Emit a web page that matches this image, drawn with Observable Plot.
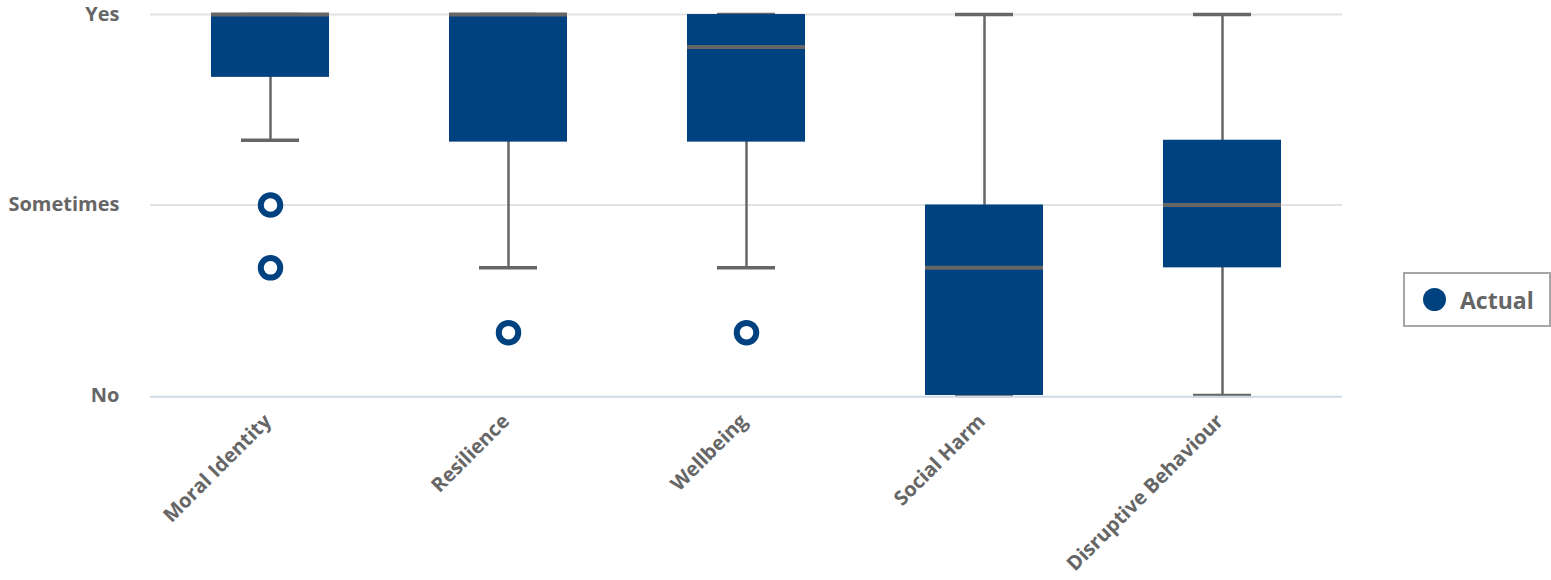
<!DOCTYPE html>
<html>
<head>
<meta charset="utf-8">
<script src="https://cdn.jsdelivr.net/npm/d3@7"></script>
<script src="https://cdn.jsdelivr.net/npm/@observablehq/plot@0.6"></script>
<style>
  html, body { margin: 0; padding: 0; background: #fff; }
  #wrap { position: relative; width: 1551px; height: 580px; font-family: "Open Sans", sans-serif; }
  #legend { position: absolute; left: 1403px; top: 272px; width: 144px; height: 51px; border: 2px solid #a6a6a6; box-sizing: content-box; display: flex; align-items: center; }
  #legend .sw { width: 23px; height: 23px; border-radius: 50%; background: #00427f; margin-left: 18px; }
  #legend .lb { font-weight: 700; font-size: 23px; color: #666; margin-left: 14px; }
</style>
</head>
<body>
<div id="wrap"></div>
<script>
const categories = ["Moral Identity", "Resilience", "Wellbeing", "Social Harm", "Disruptive Behaviour"];
const whiskerLow  = [1.34, 0.67, 0.67, 0, 0];
const q1          = [1.67, 1.33, 1.33, 0, 0.67];
const median      = [2, 2, 1.83, 0.67, 1];
const q3          = [2, 2, 2, 1, 1.34];
const whiskerHigh = [2, 2, 2, 2, 2];
const outlierCategory = ["Moral Identity", "Moral Identity", "Resilience", "Wellbeing"];
const outlierValue    = [1, 0.67, 0.33, 0.33];
const yTickValues = [0, 1, 2];
const yTickLabels = ["No", "Sometimes", "Yes"];
const legendLabel = "Actual";

const boxes = categories.map((c, i) => ({cat: c, lo: whiskerLow[i], q1: q1[i], med: median[i], q3: q3[i], hi: whiskerHigh[i]}));
const outliers = outlierCategory.map((c, i) => ({cat: c, v: outlierValue[i]}));
const yLabels = yTickValues.map((v, i) => ({v, label: yTickLabels[i]}));

const blue = "#00427f";
const gray = "#666666";

const chart = Plot.plot({
  width: 1551,
  height: 580,
  marginLeft: 150,
  marginRight: 209,
  marginTop: 14,
  marginBottom: 185,
  style: {fontFamily: "'Open Sans', sans-serif", background: "white"},
  x: {domain: categories, padding: 0, axis: null},
  y: {domain: [0, 2], axis: null},
  marks: [
    Plot.ruleY([1, 2], {stroke: "#e2e2e2", strokeWidth: 2}),
    Plot.text(yLabels, {y: "v", frameAnchor: "left", dx: -31, textAnchor: "end", text: "label", fontSize: 20, fontWeight: 700, fill: gray}),
    Plot.ruleX(boxes, {x: "cat", y1: "lo", y2: "hi", stroke: gray, strokeWidth: 2.5}),
    Plot.tickY(boxes, {x: "cat", y: "lo", stroke: gray, strokeWidth: 3.5, insetLeft: 90, insetRight: 90}),
    Plot.tickY(boxes, {x: "cat", y: "hi", stroke: gray, strokeWidth: 3.5, insetLeft: 90, insetRight: 90}),
    Plot.barY(boxes, {x: "cat", y1: "q1", y2: "q3", fill: blue, insetLeft: 60, insetRight: 60}),
    Plot.tickY(boxes, {x: "cat", y: "med", stroke: gray, strokeWidth: 4, insetLeft: 60, insetRight: 60}),
    Plot.ruleY([0], {stroke: "#cdd8e8", strokeWidth: 2, dy: 1.3}),
    Plot.dot(outliers, {x: "cat", y: "v", r: 9.75, fill: "white", stroke: blue, strokeWidth: 6}),
    Plot.text(categories, {x: d => d, frameAnchor: "bottom", text: d => d, rotate: -45, textAnchor: "end", dx: 2, dy: 27, fontSize: 20, fontWeight: 700, fill: gray})
  ]
});

const wrap = document.getElementById("wrap");
wrap.appendChild(chart);
const leg = document.createElement("div");
leg.id = "legend";
leg.innerHTML = '<div class="sw"></div><div class="lb"></div>';
leg.querySelector(".lb").textContent = legendLabel;
wrap.appendChild(leg);
</script>
</body>
</html>
